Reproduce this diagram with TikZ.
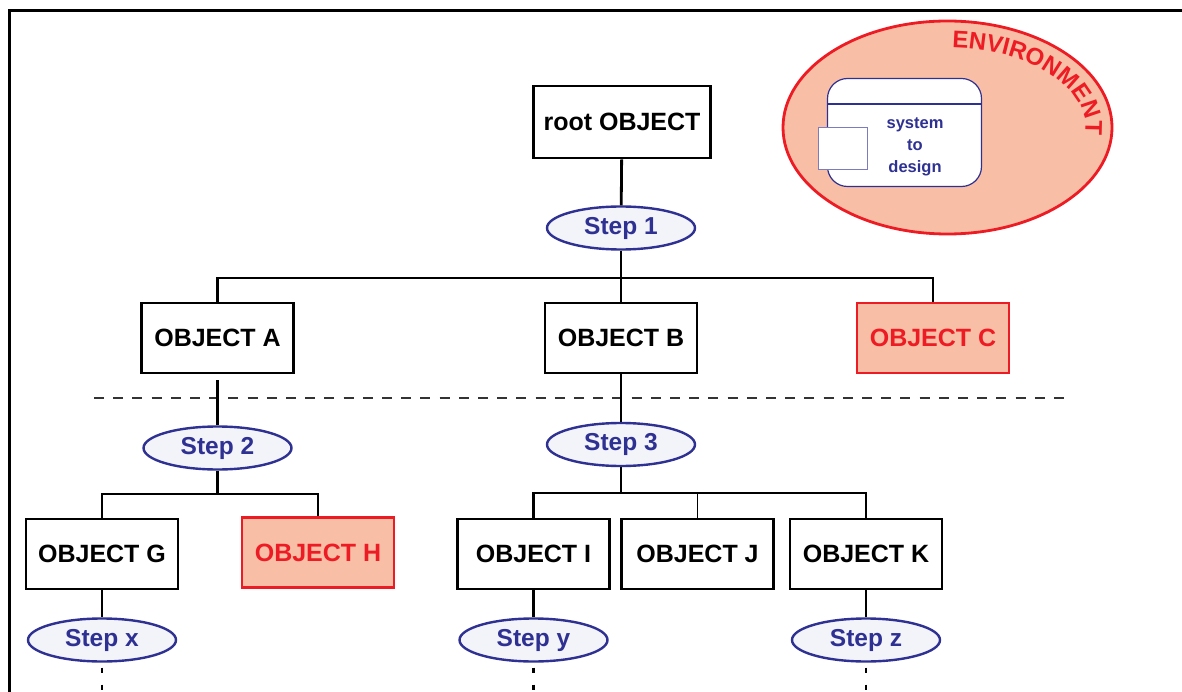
\documentclass[tikz,border=0pt]{standalone}
\usepackage{fontspec}
\setmainfont{Liberation Sans}
\usetikzlibrary{shapes.geometric,decorations.text}
\definecolor{envred}{HTML}{ED1C24}
\definecolor{salmon}{HTML}{F9BFA6}
\definecolor{stepblue}{HTML}{2E3192}
\definecolor{stepfill}{HTML}{F3F3FA}
\definecolor{lightblue}{HTML}{7B7BC0}
\definecolor{dashgray}{HTML}{333333}
\begin{document}
\begin{tikzpicture}[x=1pt,y=-1pt,
 obj/.style={draw=black, line width=2.9pt, minimum width=152pt, minimum height=70pt, inner sep=0pt, font=\fontsize{25}{25}\selectfont\bfseries, fill=white},
 redobj/.style={obj, draw=envred, fill=salmon, text=envred},
 stepnode/.style={ellipse, draw=stepblue, fill=stepfill, line width=2.4pt, minimum width=148pt, minimum height=43pt, inner sep=0pt, text=stepblue, font=\fontsize{24.5}{25}\selectfont\bfseries},
 conn/.style={line width=2.8pt},
 thinconn/.style={line width=1.2pt},
 midconn/.style={line width=2.2pt},
 dotline/.style={line width=2.8pt, dash pattern=on 5pt off 12pt},
 sepline/.style={line width=1.4pt, draw=dashgray, dash pattern=on 10pt off 9.2pt}
]
\useasboundingbox (0,0) rectangle (1182,692);

% frame
\coordinate (f1) at (9.5,692);
\coordinate (f2) at (9.5,10.5);
\coordinate (f3) at (1182,10.5);
\draw[line width=3pt] (f1) -- (f2) -- (f3);

% environment
\node[ellipse, draw=envred, fill=salmon, line width=2.8pt, minimum width=329pt, minimum height=213pt, inner sep=0pt] (env) at (947.5,127.5) {};
\begin{scope}[transform canvas={shift={(947.5pt,-127.5pt)}}]
\path[decorate, decoration={text along path, text={|\fontsize{24}{24}\selectfont\bfseries|ENVIRONMENT}, text align=center, text color=envred}]
  plot[domain=-92:12, samples=80] ({138*cos(\x)}, {80*sin(\x)});
\end{scope}
\node[draw=stepblue, fill=white, rounded corners=20pt, line width=1.2pt, minimum width=154pt, minimum height=108pt, inner sep=0pt] (sys) at (904.5,132.5) {};
\coordinate (hl) at (0,104);
\draw[stepblue, line width=1.2pt] (sys.west |- hl) -- (sys.east |- hl);
\node[draw=lightblue, fill=white, line width=1.2pt, minimum width=49pt, minimum height=42pt, inner sep=0pt] (sq) at (843,148.5) {};
\node[text=stepblue, font=\fontsize{16.5}{21.7}\selectfont\bfseries, align=center, inner sep=0pt] (systxt) at (915,147) {system\\to\\design};

% nodes
\node[obj, minimum width=177pt, minimum height=72pt] (root) at (622,122) {root OBJECT};
\node[stepnode] (s1) at (621,228) {Step 1};
\node[obj] (A) at (217.5,338) {OBJECT A};
\node[obj] (B) at (621,338) {OBJECT B};
\node[redobj] (C) at (933,338) {OBJECT C};
\node[stepnode] (s2) at (217.5,448) {Step 2};
\node[stepnode] (s3) at (621,444.5) {Step 3};
\node[obj] (G) at (102,554) {OBJECT G};
\node[redobj] (H) at (318,552.5) {OBJECT H};
\node[obj] (I) at (533.5,554) {OBJECT I};
\node[obj] (J) at (697.5,554) {OBJECT J};
\node[obj] (K) at (866,554) {OBJECT K};
\node[stepnode] (sx) at (102,640) {Step x};
\node[stepnode] (sy) at (533.5,640) {Step y};
\node[stepnode] (sz) at (866,640) {Step z};

% connectors level 1
\coordinate (b1) at (621,278);
\draw[conn] (root) -- (s1);
\draw[conn] (s1) -- (B);
\draw[conn] (A.north) |- (b1) -| (C.north);

% separator
\coordinate (d1) at (94,398);
\coordinate (d2) at (1066,398);
\draw[sepline] (d1) -- (d2);

% connectors level 2
\coordinate (b2) at (217.5,494);
\draw[conn, shorten <=6pt] (A) -- (s2);
\draw[conn] (s2) -- (b2);
\draw[conn] (G.north) |- (b2) -| (H.north);

\coordinate (b3) at (621,493);
\draw[thinconn] (B) -- (s3);
\draw[thinconn] (s3) -- (b3);
\draw[midconn] (I.north) |- (b3) -| (K.north);
\draw[thinconn] (J.north) -- (J.north |- b3);

% connectors level 3
\draw[conn] (G) -- (sx);
\draw[conn] (I) -- (sy);
\draw[conn] (K) -- (sz);
\coordinate (ex) at (102,692);
\coordinate (ey) at (533.5,692);
\coordinate (ez) at (866,692);
\draw[dotline, shorten <=5pt] (sx) -- (ex);
\draw[dotline, shorten <=5pt] (sy) -- (ey);
\draw[dotline, shorten <=5pt] (sz) -- (ez);
\end{tikzpicture}
\end{document}
